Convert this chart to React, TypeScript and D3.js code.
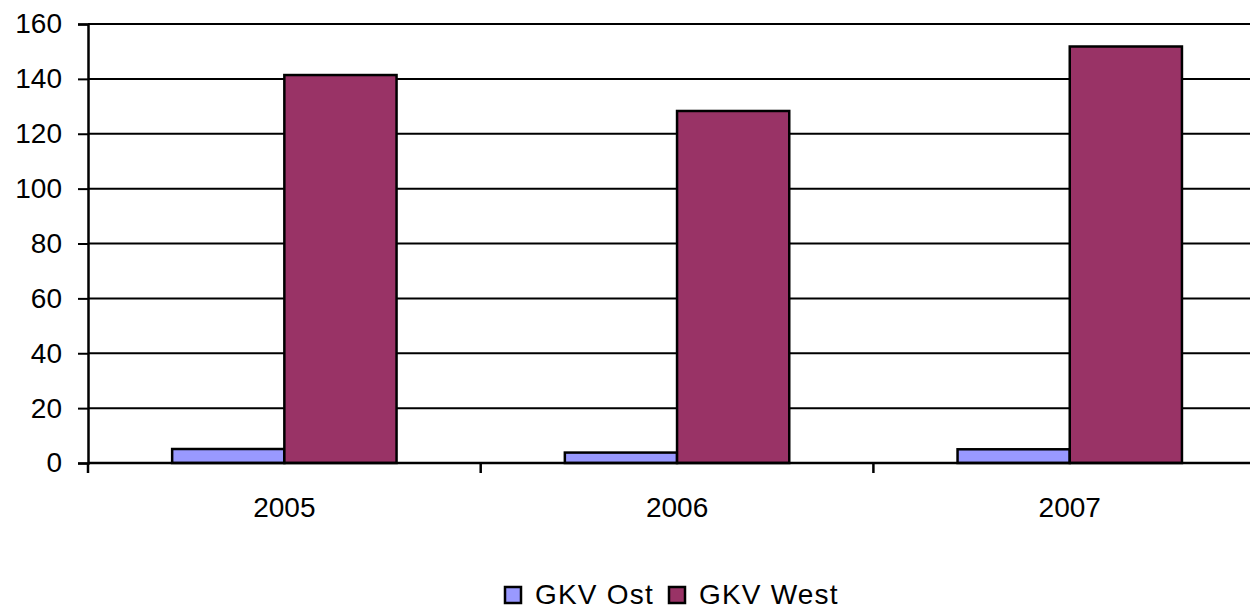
import React, { useRef, useEffect } from 'react';
import * as d3 from 'd3';

// values
const years = ['2005', '2006', '2007'];
const seriesNames = ['GKV Ost', 'GKV West'];
const ostValues = [5.1, 3.8, 5.0];
const westValues = [141.4, 128.3, 151.8];
const yTicks = [0, 20, 40, 60, 80, 100, 120, 140, 160];
const seriesColors = ['#9999FF', '#993366'];

const W = 1250;
const H = 611;
const FONT = '"Liberation Sans", Arial, sans-serif';

function App() {
  const chartRef = useRef<SVGSVGElement>(null);

  useEffect(() => {
    drawChart();
  }, []);

  const drawChart = () => {
    const svg = d3.select(chartRef.current);
    svg.selectAll('*').remove();

    const left = 88;
    const top = 24;
    const bottom = 463;
    const step = 392.7;

    const x = d3
      .scaleBand()
      .domain(years)
      .range([left, left + step * years.length])
      .padding(0);

    const x1 = d3
      .scaleBand()
      .domain(seriesNames)
      .range([0, x.bandwidth()])
      .paddingInner(0)
      .paddingOuter(0.75);

    const y = d3.scaleLinear().domain([0, 160]).range([bottom, top]);

    const rows = years.map((yr, i) => ({
      year: yr,
      values: [ostValues[i], westValues[i]],
    }));

    // gridlines
    svg
      .append('g')
      .selectAll('line')
      .data(yTicks.filter((t) => t > 0))
      .enter()
      .append('line')
      .attr('x1', left)
      .attr('x2', W)
      .attr('y1', (d) => y(d))
      .attr('y2', (d) => y(d))
      .attr('stroke', '#000')
      .attr('stroke-width', 2);

    // bars
    const groups = svg
      .append('g')
      .selectAll('g')
      .data(rows)
      .enter()
      .append('g')
      .attr('transform', (d) => `translate(${x(d.year)},0)`);

    groups
      .selectAll('rect')
      .data((d) => d.values.map((v, k) => ({ name: seriesNames[k], value: v, k })))
      .enter()
      .append('rect')
      .attr('x', (d) => x1(d.name)!)
      .attr('y', (d) => y(d.value))
      .attr('width', x1.bandwidth())
      .attr('height', (d) => bottom - y(d.value))
      .attr('fill', (d) => seriesColors[d.k])
      .attr('stroke', '#000')
      .attr('stroke-width', 2.5);

    // y axis
    const yAxis = svg
      .append('g')
      .attr('transform', `translate(${left},0)`)
      .call(d3.axisLeft(y).tickValues(yTicks).tickSize(10).tickPadding(16));
    yAxis.select('.domain').attr('stroke', '#000').attr('stroke-width', 2.5);
    yAxis.selectAll('.tick line').attr('stroke', '#000').attr('stroke-width', 2);
    yAxis
      .selectAll('.tick text')
      .attr('font-family', FONT)
      .attr('font-size', 28)
      .attr('fill', '#000');

    // x axis
    const xAxis = svg
      .append('g')
      .attr('transform', `translate(0,${bottom})`)
      .call(d3.axisBottom(x).tickSize(0).tickPadding(34));
    xAxis.select('.domain').remove();
    xAxis
      .selectAll('.tick text')
      .attr('font-family', FONT)
      .attr('font-size', 28)
      .attr('fill', '#000');

    svg
      .append('line')
      .attr('x1', left)
      .attr('x2', W)
      .attr('y1', bottom)
      .attr('y2', bottom)
      .attr('stroke', '#000')
      .attr('stroke-width', 2.5);

    // tick marks between categories
    svg
      .append('g')
      .selectAll('line')
      .data(years.map((yr) => x(yr)!))
      .enter()
      .append('line')
      .attr('x1', (d) => d)
      .attr('x2', (d) => d)
      .attr('y1', bottom)
      .attr('y2', bottom + 10)
      .attr('stroke', '#000')
      .attr('stroke-width', 2.5);

    // legend
    const legend = svg.append('g').attr('transform', 'translate(505,587)');
    const legendX = [0, 164];
    seriesNames.forEach((name, i) => {
      const g = legend.append('g').attr('transform', `translate(${legendX[i]},0)`);
      g.append('rect')
        .attr('width', 16)
        .attr('height', 16)
        .attr('fill', seriesColors[i])
        .attr('stroke', '#000')
        .attr('stroke-width', 2.5);
      g.append('text')
        .attr('x', 30)
        .attr('y', 17)
        .attr('font-family', FONT)
        .attr('font-size', 28)
        .attr('letter-spacing', 1.2)
        .attr('fill', '#000')
        .text(name);
    });
  };

  return (
    <svg
      ref={chartRef}
      width={W}
      height={H}
      style={{ position: 'absolute', left: 0, top: 0, background: '#fff' }}
    />
  );
}

export default App;
